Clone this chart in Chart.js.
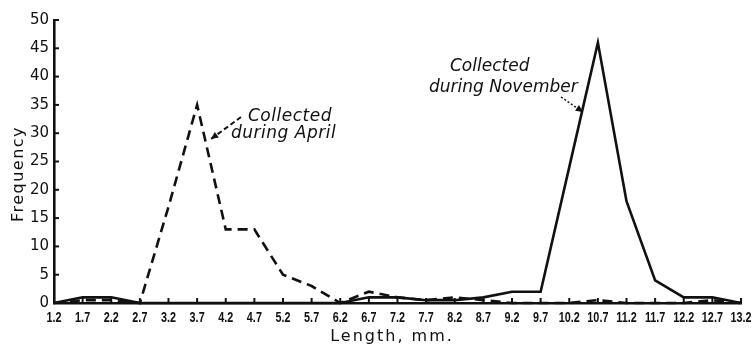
<!DOCTYPE html>
<html>
<head>
<meta charset="utf-8">
<script src="https://cdn.jsdelivr.net/npm/chart.js@4/dist/chart.umd.min.js"></script>
<style>
  html, body { margin: 0; padding: 0; background: #fff; }
  #wrap { width: 752px; height: 345px; }
</style>
</head>
<body>
<div id="wrap"><canvas id="c" width="752" height="345"></canvas></div>
<script>
// Body length classes (mm)
const lengths = ['1.2','1.7','2.2','2.7','3.2','3.7','4.2','4.7','5.2','5.7','6.2','6.7','7.2',
                 '7.7','8.2','8.7','9.2','9.7','10.2','10.7','11.2','11.7','12.2','12.7','13.2'];
// Frequency of each length class, by collection month
const aprilFreq    = [0,0.5,0.5,0,17,35,13,13,5,3,0,2,1,0.5,1,0.5,0,0,0,0.5,0,0,0,0.5,0];
const novemberFreq = [0,1,1,0,0,0,0,0,0,0,0,1,1,0.5,0.5,1,2,2,24,46,18,4,1,1,0];
// Frequency axis
const yMin = 0, yMax = 50, yStep = 5;

const INK = '#111';

// Inward tick marks, condensed length labels, axis titles and curve labels
const decorations = {
  id: 'decorations',
  afterDatasetsDraw(chart) {
    const ctx = chart.ctx;
    const xs = chart.scales.x, ys = chart.scales.y;
    const area = chart.chartArea;
    ctx.save();
    ctx.strokeStyle = INK;
    ctx.fillStyle = INK;
    ctx.lineWidth = 2;
    // y ticks pointing into the plot
    for (let v = yMin; v <= yMax; v += yStep) {
      const py = ys.getPixelForValue(v);
      ctx.beginPath();
      ctx.moveTo(area.left, py);
      ctx.lineTo(area.left + 5, py);
      ctx.stroke();
    }
    // x ticks pointing up, with narrow lettering below the axis
    ctx.font = 'bold 15px "Liberation Sans", sans-serif';
    ctx.textAlign = 'center';
    ctx.textBaseline = 'alphabetic';
    lengths.forEach((lab, i) => {
      const px = xs.getPixelForValue(i);
      ctx.beginPath();
      ctx.moveTo(px, area.bottom);
      ctx.lineTo(px, area.bottom - 5);
      ctx.stroke();
      ctx.save();
      ctx.translate(px, 322);
      ctx.scale(0.72, 1);
      ctx.fillText(lab, 0, 0);
      ctx.restore();
    });

    // axis titles
    ctx.font = '16px "DejaVu Sans"';
    ctx.letterSpacing = '2px';
    ctx.textAlign = 'center';
    ctx.fillText('Length, mm.', 392, 341);
    ctx.save();
    ctx.translate(23, 174);
    ctx.rotate(-Math.PI / 2);
    ctx.letterSpacing = '1.5px';
    ctx.fillText('Frequency', 0, 0);
    ctx.restore();

    // curve labels
    ctx.font = 'italic 17px "DejaVu Sans"';
    ctx.letterSpacing = '0.5px';
    ctx.textAlign = 'left';
    ctx.fillText('Collected', 248, 121);
    ctx.fillText('during April', 231, 138);
    ctx.letterSpacing = '0px';
    ctx.fillText('Collected', 450, 71);
    ctx.fillText('during November', 429, 92);

    // pointer arrows
    function arrow(x1, y1, x2, y2, dash, w) {
      ctx.save();
      ctx.lineWidth = w;
      ctx.setLineDash(dash);
      ctx.beginPath();
      ctx.moveTo(x1, y1);
      ctx.lineTo(x2, y2);
      ctx.stroke();
      ctx.setLineDash([]);
      const a = Math.atan2(y2 - y1, x2 - x1);
      const L = 8, s = 0.45;
      ctx.beginPath();
      ctx.moveTo(x2, y2);
      ctx.lineTo(x2 - L * Math.cos(a - s), y2 - L * Math.sin(a - s));
      ctx.lineTo(x2 - L * Math.cos(a + s), y2 - L * Math.sin(a + s));
      ctx.closePath();
      ctx.fill();
      ctx.restore();
    }
    arrow(241, 117, 211, 139, [5, 3], 2);
    arrow(561, 97, 583, 112, [2, 2], 1.5);
    ctx.restore();
  }
};

new Chart(document.getElementById('c'), {
  type: 'line',
  data: {
    labels: lengths,
    datasets: [
      {
        label: 'Collected during April',
        data: aprilFreq,
        borderColor: INK,
        borderWidth: 2.6,
        borderDash: [10, 6],
        pointRadius: 0,
        tension: 0,
        clip: false,
        fill: false
      },
      {
        label: 'Collected during November',
        data: novemberFreq,
        borderColor: INK,
        borderWidth: 2.6,
        pointRadius: 0,
        tension: 0,
        clip: false,
        fill: false
      }
    ]
  },
  options: {
    responsive: false,
    animation: false,
    layout: { padding: { top: 20, right: 11, left: 0, bottom: 0 } },
    plugins: { legend: { display: false }, tooltip: { enabled: false } },
    scales: {
      x: {
        type: 'category',
        offset: false,
        grid: { display: false, drawTicks: false },
        border: { display: true, color: INK, width: 2.6 },
        ticks: { display: false, autoSkip: false },
        afterFit(scale) { scale.height = 42; }
      },
      y: {
        min: yMin,
        max: yMax,
        grid: { display: false, drawTicks: false },
        border: { display: true, color: INK, width: 2.6 },
        ticks: {
          stepSize: yStep,
          color: INK,
          padding: 5,
          font: { family: '"DejaVu Sans", sans-serif', size: 15 }
        },
        afterFit(scale) { scale.width = 54; }
      }
    }
  },
  plugins: [decorations]
});
</script>
</body>
</html>
